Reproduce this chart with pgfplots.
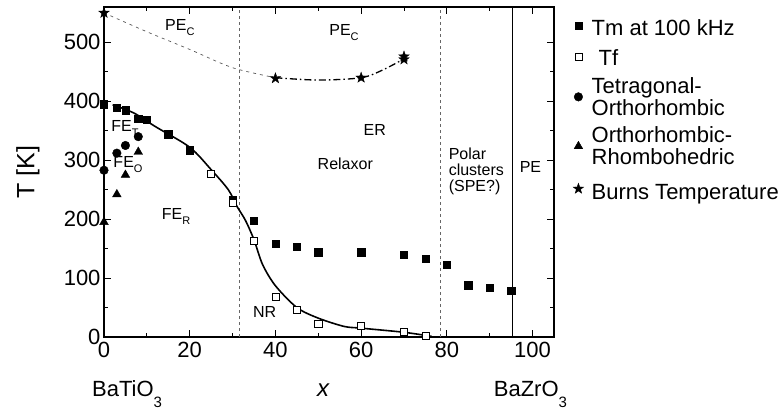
\documentclass[border=0pt]{standalone}
\usepackage{pgfplots}
\pgfplotsset{compat=1.18}
\usepackage{fontspec}
\setmainfont{Liberation Sans}
\newcommand{\fs}[1]{\fontsize{#1}{#1}\selectfont}
\newcommand{\lstrut}[2]{\rule[-#1]{0pt}{\dimexpr#1+#2\relax}}
\pgfdeclareplotmark{fstar}{%
  \pgfpathmoveto{\pgfpointpolar{90}{\pgfplotmarksize}}%
  \pgfpathlineto{\pgfpointpolar{126}{0.4\pgfplotmarksize}}%
  \pgfpathlineto{\pgfpointpolar{162}{\pgfplotmarksize}}%
  \pgfpathlineto{\pgfpointpolar{198}{0.4\pgfplotmarksize}}%
  \pgfpathlineto{\pgfpointpolar{234}{\pgfplotmarksize}}%
  \pgfpathlineto{\pgfpointpolar{270}{0.4\pgfplotmarksize}}%
  \pgfpathlineto{\pgfpointpolar{306}{\pgfplotmarksize}}%
  \pgfpathlineto{\pgfpointpolar{342}{0.4\pgfplotmarksize}}%
  \pgfpathlineto{\pgfpointpolar{18}{\pgfplotmarksize}}%
  \pgfpathlineto{\pgfpointpolar{54}{0.4\pgfplotmarksize}}%
  \pgfpathclose\pgfusepathqfillstroke}

\begin{document}
\begin{tikzpicture}
\useasboundingbox (-104bp,-72bp) rectangle (678bp,337bp);
\begin{axis}[
  scale only axis, width=450bp, height=330bp,
  at={(0,0)}, anchor=south west,
  xmin=0, xmax=105, ymin=0, ymax=560,
  xtick={0,20,...,100}, ytick={0,100,...,500},
  minor x tick num=1, minor y tick num=1,
  tick align=inside,
  major tick length=7bp, minor tick length=4bp,
  axis line style={line width=1.2bp},
  every tick/.style={black, line width=0.8bp},
  tick label style={font=\fs{22bp}},
  xticklabel style={yshift=-2bp},
  /pgf/number format/assume math mode=true,
  ylabel={T [K]},
  ylabel style={font=\fs{25bp}, at={(axis description cs:-0.169,0.5)}, anchor=center},
  clip=false,
  legend style={draw=none, fill=none, at={(1,1)}, anchor=north west, xshift=17bp, yshift=-3bp,
    font=\fs{22bp}, row sep=6bp, cells={anchor=west, align=left}, inner sep=2bp,
    /tikz/every odd column/.append style={column sep=6bp}},
  legend image code/.code={\draw[mark repeat=2,mark phase=2] plot coordinates {(0bp,0bp)(8bp,0bp)(16bp,0bp)};},
]
% region boundaries
\addplot[forget plot, gray!80!black, line width=0.8bp, dash pattern=on 3bp off 3bp] coordinates {(31.7,0) (31.7,560)};
\addplot[forget plot, gray!80!black, line width=0.8bp, dash pattern=on 3bp off 3bp] coordinates {(78.5,0) (78.5,560)};
\addplot[forget plot, black, line width=0.8bp] coordinates {(95.3,0) (95.3,560)};
% Burns curve
\addplot[forget plot, gray!70!black, line width=0.7bp, dash pattern=on 3bp off 4bp, smooth] coordinates {(0,550) (10,518) (20,488) (30,457) (40,440)};
\addplot[forget plot, black, line width=1.3bp, dash pattern=on 7bp off 3bp on 1.5bp off 3bp, smooth] coordinates {(40,440) (50,436) (60,440) (65,453) (70,472)};
% Tf solid curve
\addplot[forget plot, black, line width=1.6bp, smooth] coordinates {(2,394) (7,380) (12,357) (20,322) (25,284) (29,250) (31,222) (33,198) (35,165) (37,123) (40,87) (45,50) (50,32) (56,18) (60,15) (70,8) (76.5,1)};

\addplot[only marks, mark=square*, mark size=3.6bp, black] coordinates {
(0,395) (3,389) (5,385) (8,371) (10,369) (15,344) (20,317) (30,233) (35,197) (40,159) (45,153) (50,144) (60,144) (70,139) (75,133) (80,123) (85,88) (90,84) (95,79)};
\addlegendentry{\lstrut{5bp}{21bp}Tm at 100 kHz}
\addplot[only marks, mark=square*, mark size=3.6bp, mark options={fill=white, draw=black, line width=0.6bp}] coordinates {
(25,277) (30,228) (35,163) (40,68) (45,46) (50,23) (60,19) (70,9) (75,2)};
\addlegendentry{\lstrut{3bp}{19bp}\hspace{7bp}Tf}
\addplot[only marks, mark=*, mark size=4.3bp, black] coordinates {(0,283) (3,312) (5,325) (8,340)};
\addlegendentry{Tetragonal-\\Orthorhombic}
\addplot[only marks, mark=triangle*, mark size=5bp, black] coordinates {(0,195) (3,242) (5,275) (8,314)};
\addlegendentry{Orthorhombic-\\Rhombohedric}
\addplot[only marks, mark=fstar, mark size=5.5bp, black] coordinates {(0,550) (40,439) (60,440) (70,476) (70,471)};
\addlegendentry{\lstrut{13bp}{24bp}Burns Temperature}

% annotations
\node[font=\fs{16bp}] at (axis cs:17.7,525) {PE\raisebox{-5bp}{\fs{11bp}C}};
\node[font=\fs{16bp}] at (axis cs:56,516) {PE\raisebox{-5bp}{\fs{11bp}C}};
\node[font=\fs{16bp}] at (axis cs:4.9,354) {FE\raisebox{-5bp}{\fs{11bp}T}};
\node[font=\fs{16bp}] at (axis cs:5.6,293) {FE\raisebox{-5bp}{\fs{11bp}O}};
\node[font=\fs{16bp}] at (axis cs:16.8,205) {FE\raisebox{-5bp}{\fs{11bp}R}};
\node[font=\fs{16bp}] at (axis cs:37.5,43) {NR};
\node[font=\fs{16bp}] at (axis cs:63.2,352) {ER};
\node[font=\fs{16bp}] at (axis cs:56.3,294) {Relaxor};
\node[font=\fs{16bp}, align=left, anchor=west, inner sep=0pt] at (axis cs:80.4,281) {\fontsize{16bp}{19.5bp}\selectfont Polar\\clusters\\(SPE?)};
\node[font=\fs{16bp}] at (axis cs:99.5,289) {PE};
% bottom labels
\node[font=\fs{22bp}, anchor=base, inner sep=0pt] at (axis cs:5.4,0) [yshift=-59bp] {BaTiO\raisebox{-11bp}{\fs{15bp}3}};
\node[font=\fs{24bp}\itshape, anchor=base, inner sep=0pt] at (axis cs:51.1,0) [yshift=-59bp] {x};
\node[font=\fs{22bp}, anchor=base, inner sep=0pt] at (axis cs:99.5,0) [yshift=-59bp] {BaZrO\raisebox{-11bp}{\fs{15bp}3}};
\end{axis}
\end{tikzpicture}
\end{document}
